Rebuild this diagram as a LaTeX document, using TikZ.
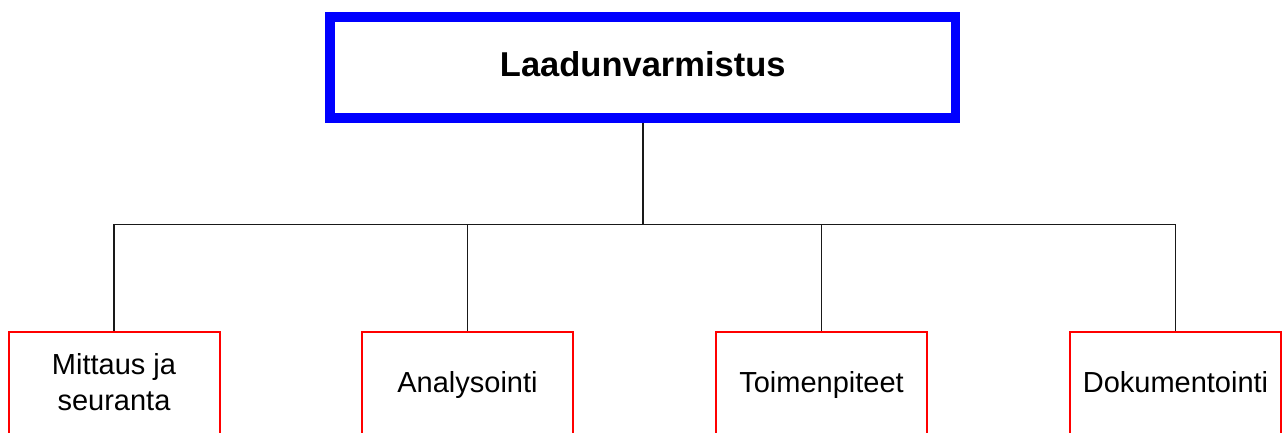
\documentclass[tikz,border=0pt]{standalone}
\usepackage{fontspec}
\setmainfont{Liberation Sans}
\usepackage{xcolor}
\usepackage{tikz}
\usetikzlibrary{positioning}
\definecolor{qablue}{RGB}{0,0,255}
\definecolor{qared}{RGB}{255,0,0}
\tikzset{
  mainbox/.style={rectangle, draw=qablue, line width=9.5pt, fill=white,
                  minimum width=625.5pt, minimum height=101pt, inner sep=0pt,
                  font=\fontsize{34.5}{41}\selectfont\bfseries,
                  text height=25.9pt, text depth=7.5pt},
  subbox/.style={rectangle, draw=qared, line width=2pt, fill=white,
                 minimum width=211pt, minimum height=104pt, inner sep=0pt,
                 align=center, font=\fontsize{29}{36.4}\selectfont,
                 text height=21.75pt, text depth=3.5pt},
  link/.style={line width=1.6pt, black!90},
}

\begin{document}
\begin{tikzpicture}[x=1pt, y=-1pt]
  \useasboundingbox (0,0) rectangle (1282,432);
  \clip (0,0) rectangle (1282,432);

  % tree: one heading, four branches
  \node[mainbox] (qa)   at (642.75,67.5) {Laadunvarmistus};
  \node[subbox, text height=58.15pt] (mit) at (114,383.5) {Mittaus ja\\seuranta};
  \node[subbox]  (ana)  at (467.5,383.5) {Analysointi};
  \node[subbox]  (toim) at (821.5,383.5) {Toimenpiteet};
  \node[subbox]  (dok)  at (1175.5,383.5) {Dokumentointi};
  \coordinate (bus) at (642.75,224.3);

  \draw[link] (qa.south) -- (bus);
  \draw[link] (bus) -| (mit.north);
  \draw[link] (bus) -| (ana.north);
  \draw[link] (bus) -| (toim.north);
  \draw[link] (bus) -| (dok.north);
\end{tikzpicture}
\end{document}
